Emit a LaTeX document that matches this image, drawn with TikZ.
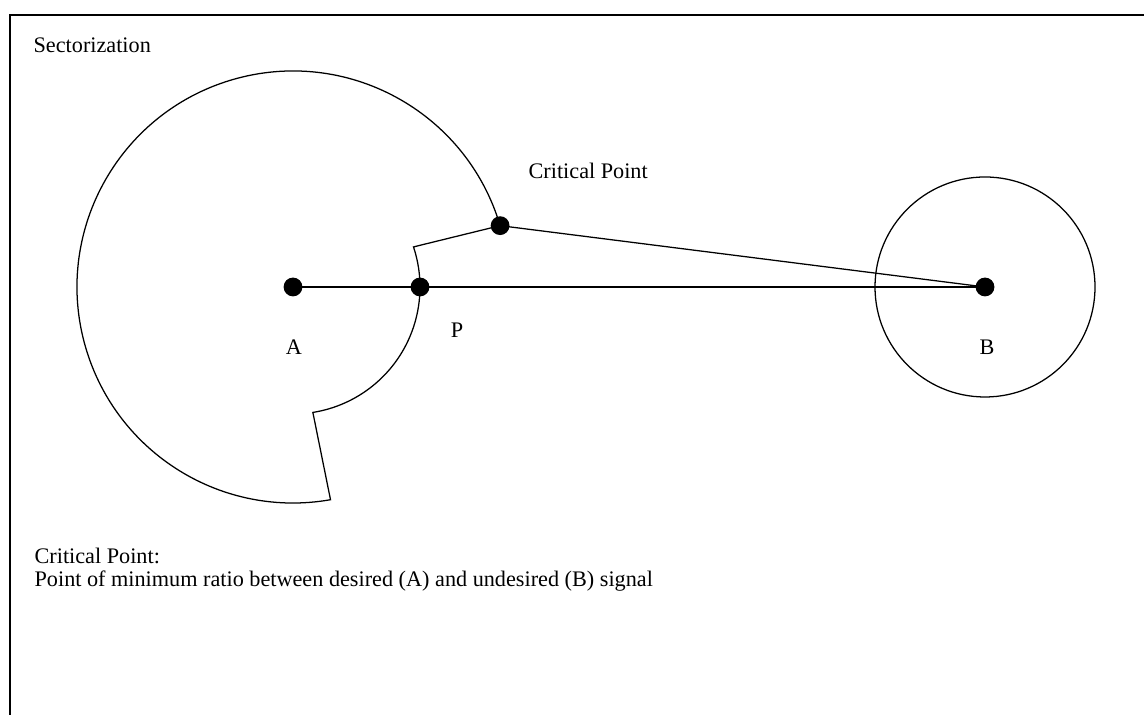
\documentclass[tikz,border=0pt]{standalone}
\usepackage{fontspec}
\setmainfont{Liberation Serif}
\usetikzlibrary{calc}
\begin{document}
\begin{tikzpicture}[x=0.025cm,y=0.025cm,cap=round,line width=0.9pt,
        dot/.style={circle,fill,inner sep=0pt,minimum size=0.47cm},
        lbl/.style={anchor=base,inner sep=0pt,font=\fontsize{15.8}{16.3}\selectfont}]
        \useasboundingbox (0,0) rectangle (1144,715);
        % draw the frame
        \draw[line width=2pt,line cap=butt] (10,0) -- (10,700) -- (1144,700);

        % the stations, the point P and the critical point
        \coordinate (A) at (293,428);
        \coordinate (P) at (420,428);
        \coordinate (B) at (985,428);
        \coordinate (crit) at ($(A)+(16.5:216)$);
        \coordinate (cutin) at ($(A)+(-81:127)$);

        % draw the sector of A
        \draw (crit) arc[start angle=16.5,end angle=280,radius=216]
            -- (cutin) arc[start angle=-81,end angle=18.4,radius=127] -- cycle;
        % draw the cell of B
        \draw (B) circle[radius=110];

        % draw the paths
        \draw (A) -- (P) -- (B);
        \draw (crit) -- (B);
        \foreach \pt in {A,P,crit,B}
            \node[dot] (\pt dot) at (\pt) {};

        % labels
        \node[lbl] (labA) at (294,360) {A};
        \node[lbl] (labP) at (457,377) {P};
        \node[lbl] (labB) at (987,360) {B};
        \node[lbl,anchor=base west] (critlab) at (528,536) {Critical Point};
        \node[lbl,anchor=base west] (title) at (33,662) {Sectorization};
        \node[lbl,anchor=base west] (note) at (34,151) {Critical Point:};
        \node[lbl,anchor=base west] (notetext) at (34,128)
            {Point of minimum ratio between desired (A) and undesired (B) signal};
\end{tikzpicture}
\end{document}
